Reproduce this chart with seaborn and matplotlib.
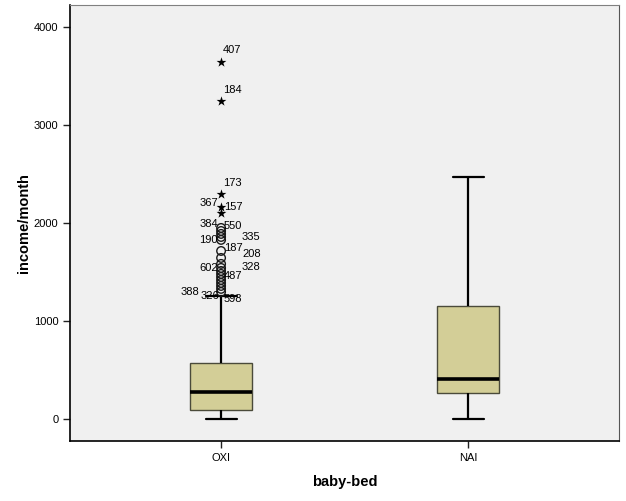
import numpy as np
import pandas as pd
import matplotlib.pyplot as plt
import seaborn as sns

oxi_values = [0, 92, 276, 571, 1255]
oxi_counts = [5, 30, 30, 30, 5]
nai_values = [0, 265, 408, 1153, 2469]
nai_counts = [1, 1, 1, 1, 1]

# OXI outliers: stars (extreme) and circles
oxi_stars = [3643, 3245, 2296, 2163, 2102]
oxi_circles = [1949, 1918, 1888, 1857, 1827, 1714, 1643, 1582,
               1541, 1510, 1480, 1449, 1418, 1388, 1357, 1327, 1296]

# case labels next to outliers: text, value, offset x, offset y (pixels), align
case_labels = [("407", 3643, 2, 12, "left"), ("184", 3245, 2, 11, "left"),
               ("173", 2296, 2, 11, "left"), ("157", 2163, 3, 0, "left"),
               ("367", 2102, -3, 10, "right"), ("550", 1949, 3, 2, "left"),
               ("384", 1918, -3, 7, "right"), ("190", 1827, -3, 0, "right"),
               ("335", 1857, 20, 0, "left"), ("187", 1714, 3, 3, "left"),
               ("208", 1643, 21, 4, "left"), ("602", 1541, -3, 0, "right"),
               ("328", 1582, 20, -3, "left"), ("487", 1480, 3, -2, "left"),
               ("388", 1296, -22, 0, "right"), ("326", 1296, -2, -4, "right"),
               ("598", 1327, 3, -10, "left")]

groups = ["OXI", "NAI"]

df = pd.DataFrame({
    "bed": ["OXI"] * sum(oxi_counts) + ["NAI"] * sum(nai_counts),
    "income": np.concatenate([np.repeat(oxi_values, oxi_counts),
                              np.repeat(nai_values, nai_counts)]),
})
out = pd.DataFrame({
    "bed": ["OXI"] * (len(oxi_stars) + len(oxi_circles)),
    "income": oxi_stars + oxi_circles,
    "kind": ["star"] * len(oxi_stars) + ["circle"] * len(oxi_circles),
})

sns.set_style("ticks")
plt.rcParams['font.family'] = ['Liberation Sans', 'DejaVu Sans']
plt.rcParams['text.color'] = 'black'
plt.rcParams['axes.labelcolor'] = 'black'
plt.rcParams['xtick.color'] = 'black'
plt.rcParams['ytick.color'] = 'black'

fig = plt.figure(figsize=(6.26, 5.01), dpi=100)
ax = fig.add_axes([0.112, 0.12, 0.877, 0.87])
ax.set_facecolor("#f0f0f0")

sns.boxplot(data=df, x="bed", y="income", order=groups, ax=ax,
            color="#d3ce97", saturation=1, width=0.25, whis=1.5,
            showfliers=False, linecolor="black", linewidth=1.5,
            boxprops=dict(edgecolor="#4a4a3a", linewidth=1),
            medianprops=dict(color="black", linewidth=2.6),
            whiskerprops=dict(color="black", linewidth=1.6),
            capprops=dict(color="black", linewidth=1.6))

# outliers: circles and stars
circ = out[out.kind == "circle"]
star = out[out.kind == "star"]
ax.scatter(np.zeros(len(circ)), circ.income, s=38, facecolors="none",
           edgecolors="#1a1a1a", linewidths=1.0, zorder=3)
ax.scatter(np.zeros(len(star)), star.income, s=55, marker="*",
           color="black", linewidths=0, zorder=3)

for txt, val, dx, dy, ha in case_labels:
    ax.annotate(txt, (0, val), xytext=(dx, dy), textcoords="offset pixels",
                ha=ha, va="center", fontsize=8, color="black")

ax.set_xlim(-0.611, 1.611)
ax.set_ylim(-224, 4224)
ax.set_yticks([0, 1000, 2000, 3000, 4000])
ax.tick_params(axis="both", labelsize=8, length=5, width=1, color="#222222")
ax.set_xlabel("baby-bed", fontsize=10.5, fontweight="bold", labelpad=9)
ax.set_ylabel("income/month", fontsize=10.5, fontweight="bold", labelpad=2)

for side in ["left", "bottom"]:
    ax.spines[side].set_color("black")
    ax.spines[side].set_linewidth(1.2)
ax.spines["top"].set_visible(True)
ax.spines["right"].set_visible(True)
ax.spines["top"].set_color("#808080")
ax.spines["right"].set_color("#555555")

fig.savefig("out.png", dpi=100)
